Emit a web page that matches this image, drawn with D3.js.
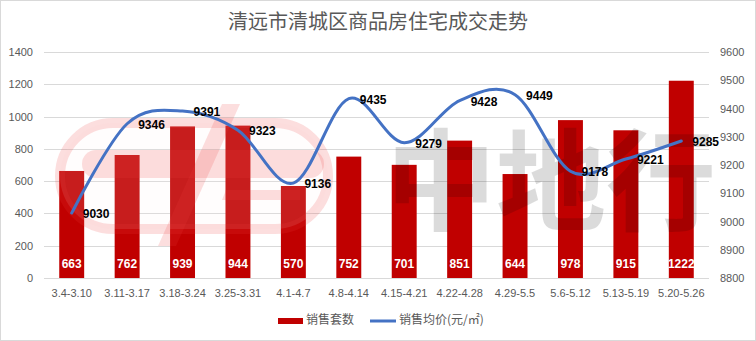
<!DOCTYPE html>
<html>
<head>
<meta charset="utf-8">
<script src="https://cdn.jsdelivr.net/npm/d3@7"></script>
<style>
  html, body { margin: 0; padding: 0; background: #fff; }
  svg { display: block; }
</style>
</head>
<body>
<svg id="chart" width="756" height="341"></svg>
<script>
// Weekly transaction data
const weeks = ["3.4-3.10","3.11-3.17","3.18-3.24","3.25-3.31","4.1-4.7","4.8-4.14","4.15-4.21","4.22-4.28","4.29-5.5","5.6-5.12","5.13-5.19","5.20-5.26"];
const unitsSold = [663, 762, 939, 944, 570, 752, 701, 851, 644, 978, 915, 1222];
const avgPrice = [9030, 9346, 9391, 9323, 9136, 9435, 9279, 9428, 9449, 9178, 9221, 9285];
const leftTicks = [0, 200, 400, 600, 800, 1000, 1200, 1400];
const rightTicks = [8800, 8900, 9000, 9100, 9200, 9300, 9400, 9500, 9600];

const svg = d3.select("#chart");
const W = 756, H = 341;
const plot = { left: 44, right: 709, top: 52, bottom: 278 };
const numFont = "'Liberation Sans', Arial, sans-serif";
const cjkFont = "'Noto Sans CJK SC', 'Noto Sans', sans-serif";
const grey = "#595959";
const fmt = d3.format("d");

// outer frame
svg.append("rect").attr("x", 0.5).attr("y", 0.5).attr("width", W - 1).attr("height", H - 1)
  .attr("fill", "#fff").attr("stroke", "#d9d9d9");

// title
svg.append("text").attr("x", 378).attr("y", 29).attr("text-anchor", "middle")
  .attr("font-family", cjkFont).attr("font-size", 20).attr("fill", grey)
  .text("清远市清城区商品房住宅成交走势");

const x = d3.scaleBand().domain(weeks).range([plot.left, plot.right])
  .paddingInner(0.55).paddingOuter(0.275);
const yL = d3.scaleLinear().domain([0, 1400]).range([plot.bottom, plot.top]);
const yR = d3.scaleLinear().domain([8800, 9600]).range([plot.bottom, plot.top]);
const cx = d => x(d) + x.bandwidth() / 2;

// gridlines
svg.append("g").selectAll("line").data(leftTicks).join("line")
  .attr("x1", plot.left).attr("x2", plot.right)
  .attr("y1", d => Math.round(yL(d)) + 0.5).attr("y2", d => Math.round(yL(d)) + 0.5)
  .attr("stroke", "#d9d9d9").attr("stroke-width", 1);

// left axis
const gl = svg.append("g").attr("transform", `translate(${plot.left},0)`)
  .call(d3.axisLeft(yL).tickValues(leftTicks).tickFormat(fmt).tickSize(0).tickPadding(11));
gl.select(".domain").remove();
gl.selectAll("text").attr("font-family", numFont).attr("font-size", 11).attr("fill", grey);

// right axis
const gr = svg.append("g").attr("transform", `translate(${plot.right},0)`)
  .call(d3.axisRight(yR).tickValues(rightTicks).tickFormat(fmt).tickSize(0).tickPadding(11));
gr.select(".domain").remove();
gr.selectAll("text").attr("font-family", numFont).attr("font-size", 11).attr("fill", grey);

// category axis
const gx = svg.append("g").attr("transform", `translate(0,${plot.bottom})`)
  .call(d3.axisBottom(x).tickSize(0).tickPadding(11));
gx.select(".domain").remove();
gx.selectAll("text").attr("font-family", numFont).attr("font-size", 11).attr("fill", grey);

// bars
svg.append("g").selectAll("rect").data(unitsSold).join("rect")
  .attr("x", (d, i) => x(weeks[i])).attr("width", x.bandwidth())
  .attr("y", d => yL(d)).attr("height", d => yL(0) - yL(d))
  .attr("fill", "#c00000");

// company logo watermark
const logo = svg.append("g");
const pink = "rgba(235,60,60,0.17)";
logo.append("rect").attr("x", 60).attr("y", 123).attr("width", 268).attr("height", 106)
  .attr("rx", 53).attr("fill", "rgba(255,235,235,0.12)").attr("stroke", pink).attr("stroke-width", 10);
logo.append("path")
  .attr("d", "M96,150 L310,150 A14,14 0 0 1 310,178 L96,178 A14,14 0 0 1 96,150 Z")
  .attr("fill", pink);
logo.append("path")
  .attr("d", "M222,104 L240,104 L176,246 L158,246 Z")
  .attr("fill", pink);
logo.append("path")
  .attr("d", "M226,190 L300,190 L300,200 L222,200 Z")
  .attr("fill", pink);
svg.append("text").attr("x", 386).attr("y", 222)
  .attr("font-family", cjkFont).attr("font-size", 110).attr("font-weight", "bold")
  .attr("fill", "#000").attr("fill-opacity", 0.14)
  .text("中地行");

// bar value labels
svg.append("g").selectAll("text").data(unitsSold).join("text")
  .attr("x", (d, i) => cx(weeks[i])).attr("y", 265)
  .attr("text-anchor", "middle").attr("dominant-baseline", "middle")
  .attr("font-family", numFont).attr("font-size", 12).attr("font-weight", "bold")
  .attr("fill", "#fff").text(d => d);

// price line
const line = d3.line()
  .x((d, i) => cx(weeks[i])).y(d => yR(d))
  .curve(d3.curveCatmullRom.alpha(0));
svg.append("path").datum(avgPrice).attr("d", line)
  .attr("fill", "none").attr("stroke", "#4472c4").attr("stroke-width", 3)
  .attr("stroke-linecap", "round");

// price labels
svg.append("g").selectAll("text").data(avgPrice).join("text")
  .attr("x", (d, i) => cx(weeks[i]) + 11).attr("y", d => yR(d) + 2)
  .attr("dominant-baseline", "middle")
  .attr("font-family", numFont).attr("font-size", 12).attr("font-weight", "bold")
  .attr("fill", "#000").text(d => d);

// legend
const lg = svg.append("g");
lg.append("rect").attr("x", 278).attr("y", 318).attr("width", 25).attr("height", 6).attr("fill", "#c00000");
lg.append("text").attr("x", 306).attr("y", 321).attr("dominant-baseline", "middle")
  .attr("font-family", cjkFont).attr("font-size", 12).attr("fill", grey).text("销售套数");
lg.append("line").attr("x1", 370).attr("x2", 396).attr("y1", 321).attr("y2", 321)
  .attr("stroke", "#4472c4").attr("stroke-width", 3);
lg.append("text").attr("x", 399).attr("y", 321).attr("dominant-baseline", "middle")
  .attr("font-family", cjkFont).attr("font-size", 12).attr("fill", grey).text("销售均价(元/㎡)");
</script>
</body>
</html>
